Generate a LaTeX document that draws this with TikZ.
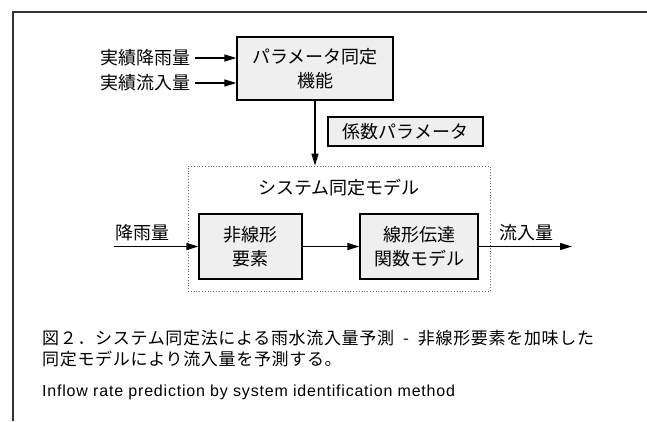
\documentclass[tikz,border=0pt]{standalone}
\usepackage{fontspec}
\setmainfont{Noto Sans CJK JP}
\newfontfamily\capfont[LetterSpace=4]{Noto Sans CJK JP}
\newfontfamily\enfont[LetterSpace=5]{Liberation Sans}
\usetikzlibrary{arrows.meta}
\definecolor{boxgray}{HTML}{EFEFEF}
\begin{document}
\begin{tikzpicture}[x=1pt,y=-1pt,
  box/.style={draw=black,line width=1.3pt,fill=boxgray,inner sep=0pt,align=center,font=\fontsize{18}{24}\selectfont},
  lbl/.style={inner sep=0pt,font=\fontsize{18}{24}\selectfont},
  arr/.style={line width=1.3pt,-{Triangle[length=12pt,width=7pt]}},
  captxt/.style={anchor=west,inner sep=0pt,font=\capfont\fontsize{17}{20}\selectfont},
]
\useasboundingbox (0,0) rectangle (647,421);
\draw[line width=1.2pt,draw=black!80] (647,12) -- (13,12) -- (13,421);

\node[box,minimum width=156pt,minimum height=63pt] (param) at (315,68.5) {パラメータ同定\\機能};
\node[lbl,anchor=east] (in1) at (191,58) {実績降雨量};
\node[lbl,anchor=east] (in2) at (191,83) {実績流入量};
\draw[arr] ([xshift=4pt]in1.east) -- (in1.east -| param.west);
\draw[arr] ([xshift=4pt]in2.east) -- (in2.east -| param.west);

\node[box,minimum width=155pt,minimum height=29pt] (coef) at (405.5,131.5) {係数パラメータ};
\node[draw=black!60,dotted,line width=0.8pt,minimum width=302pt,minimum height=125pt,inner sep=0pt] (sys) at (339,228.5) {};
\node[lbl] (systitle) at (339,188) {システム同定モデル};
\draw[arr] (param.south) -- (param.south |- sys.north);

\node[box,minimum width=103pt,minimum height=65pt] (nl) at (250.5,246.5) {非線形\\要素};
\node[box,minimum width=118pt,minimum height=65pt] (lin) at (419,246.5) {線形伝達\\関数モデル};
\coordinate (src) at (114,246.5);
\coordinate (dst) at (572,246.5);
\draw[arr] (src) -- (nl.west);
\draw[arr] (nl) -- (lin);
\draw[arr] (lin.east) -- (dst);
\node[lbl,anchor=west] (rain) at (115,233) {降雨量};
\node[lbl] (out) at (526,233) {流入量};

\node[captxt] (cap1) at (42,338) {図２．システム同定法による雨水流入量予測 \ - \ 非線形要素を加味した};
\node[captxt] (cap2) at (42,359) {同定モデルにより流入量を予測する。};
\node[anchor=west,inner sep=0pt,font=\enfont\fontsize{16}{18}\selectfont] (cap3) at (42,392) {Inflow rate prediction by system identification method};
\end{tikzpicture}
\end{document}
